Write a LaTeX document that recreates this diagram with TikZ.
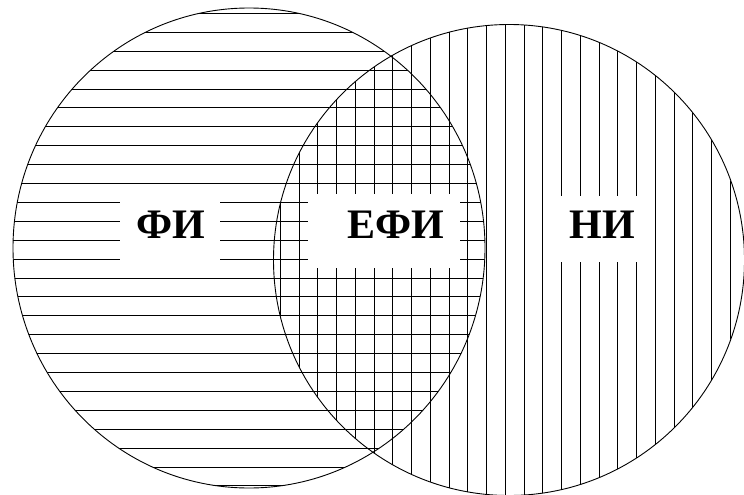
\documentclass[tikz,border=0pt]{standalone}
\usepackage{fontspec}
\setmainfont{Liberation Serif}
\begin{document}
\begin{tikzpicture}[x=1pt,y=-1pt,
  hatch/.style={line width=0.8pt,black},
  outline/.style={line width=0.9pt,black},
  lbl/.style={font=\fontsize{42}{42}\selectfont\bfseries,anchor=base,inner sep=0pt}]
\useasboundingbox (0,0) rectangle (744,495);
\fill[white] (0,0) rectangle (744,495);
\coordinate (cL) at (249,248);
\coordinate (cR) at (509,260);
% horizontal hatching in left circle
\begin{scope}
  \clip (cL) ellipse [x radius=236, y radius=240];
  \foreach \k in {0,...,25}
    \draw[hatch] (0,{13.3+18.9*\k}) -- (744,{13.3+18.9*\k});
\end{scope}
% vertical hatching in right circle
\begin{scope}
  \clip (cR) circle [radius=235.5];
  \foreach \k in {0,...,24}
    \draw[hatch] ({280.2+18.75*\k},0) -- ({280.2+18.75*\k},495);
\end{scope}
% blank areas behind labels
\fill[white] (120,191) rectangle (220,269);
\fill[white] (308,194) rectangle (460,268);
\fill[white] (551,196) rectangle (646,262);
% outlines
\draw[outline] (cL) ellipse [x radius=236, y radius=240];
\draw[outline] (cR) circle [radius=235.5];
% labels
\node[lbl] (fi) at (171,238) {ФИ};
\node[lbl] (efi) at (395.5,238) {ЕФИ};
\node[lbl] (ni) at (602.5,238) {НИ};
\end{tikzpicture}
\end{document}
